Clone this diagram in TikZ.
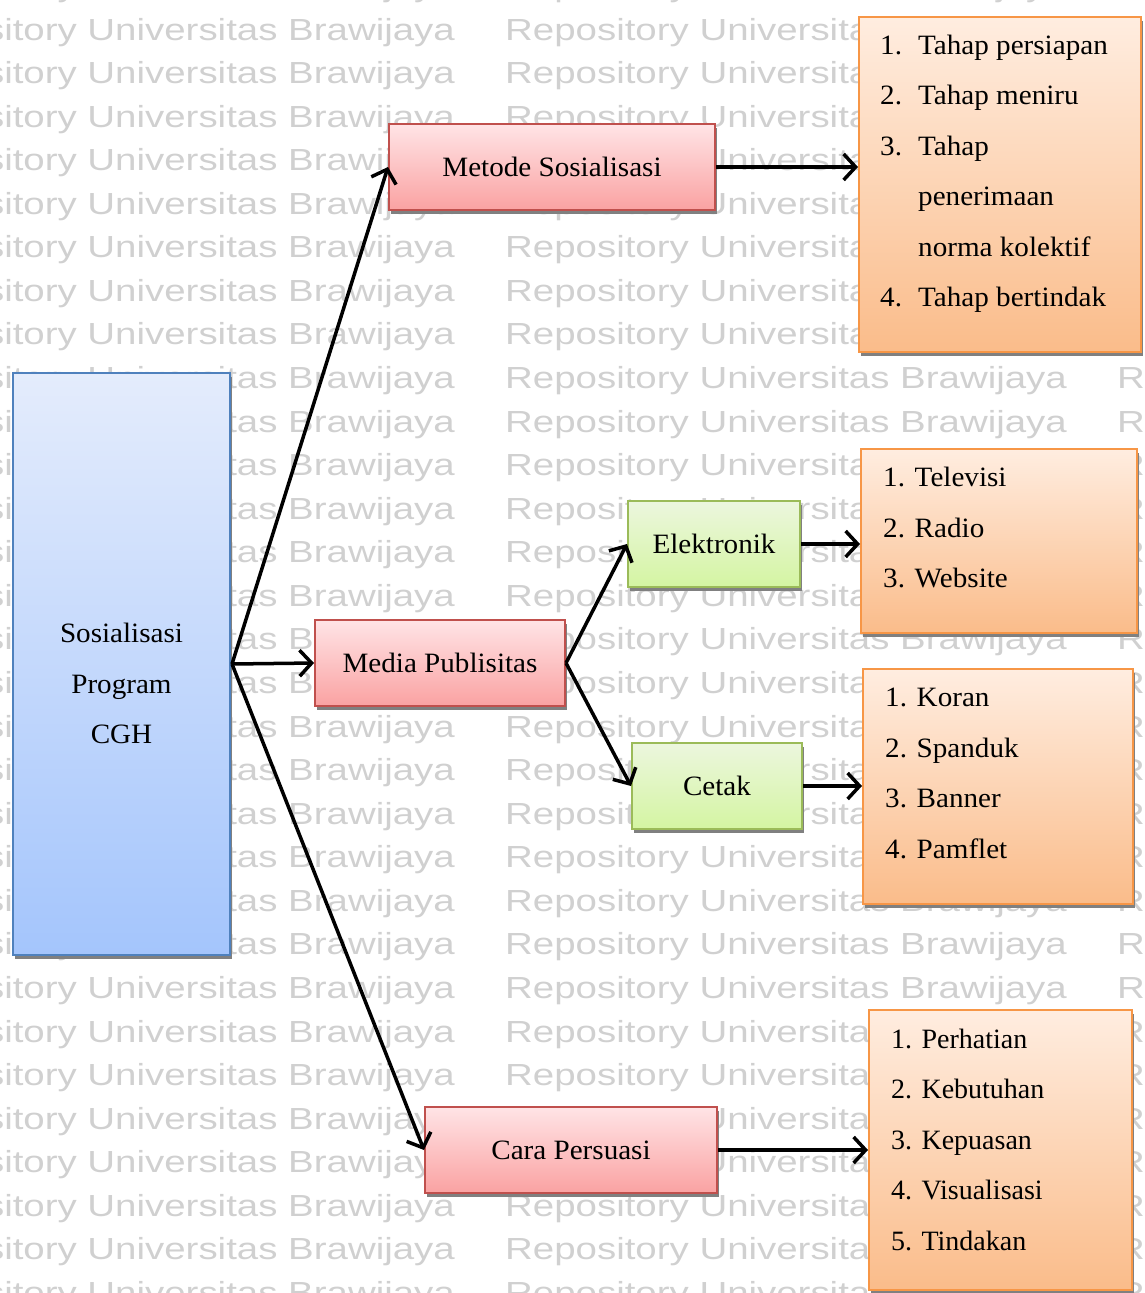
\documentclass[tikz,border=0pt]{standalone}
\usepackage{fontspec}
\setmainfont{Liberation Serif}[FakeStretch=1.04]
\newfontfamily\listfont{Liberation Serif}
\newfontfamily\wmfont{Liberation Sans}[FakeStretch=1.26]
\usetikzlibrary{arrows.meta,shadows}

\definecolor{wmgray}{RGB}{208,208,208}
\definecolor{blueline}{RGB}{79,129,189}
\definecolor{bluetop}{RGB}{228,236,252}
\definecolor{bluebot}{RGB}{164,197,252}
\definecolor{redline}{RGB}{192,80,77}
\definecolor{redtop}{RGB}{255,228,230}
\definecolor{redbot}{RGB}{250,162,162}
\definecolor{greenline}{RGB}{155,187,89}
\definecolor{greentop}{RGB}{236,246,222}
\definecolor{greenbot}{RGB}{212,245,162}
\definecolor{orangeline}{RGB}{247,150,70}
\definecolor{orangetop}{RGB}{255,237,224}
\definecolor{orangebot}{RGB}{250,188,138}

\begin{document}
\begin{tikzpicture}[x=1pt,y=-1pt,
  wm/.style={anchor=base west, inner sep=0pt, text=wmgray,
    font=\wmfont\fontsize{30.5}{36}\selectfont},
  box/.style={draw, line width=2pt, inner sep=0pt,
    font=\fontsize{28}{34}\selectfont,
    drop shadow={shadow xshift=2pt, shadow yshift=-4pt, fill=black!50, opacity=1}},
  bluebox/.style={box, draw=blueline, top color=bluetop, bottom color=bluebot},
  redbox/.style={box, draw=redline, top color=redtop, bottom color=redbot, minimum height=86pt},
  greenbox/.style={box, draw=greenline, top color=greentop, bottom color=greenbot, minimum height=86pt},
  orangebox/.style={box, draw=orangeline, top color=orangetop, bottom color=orangebot},
  item/.style={anchor=base west, inner sep=0pt, font=\fontsize{28}{34}\selectfont},
  plainitem/.style={item, font=\listfont\fontsize{28}{34}\selectfont},
  label/.style={anchor=base, inner sep=0pt, font=\fontsize{28}{34}\selectfont},
  arr/.style={line width=3.5pt, -{Straight Barb[length=12pt,width=26pt]}}
]
\useasboundingbox (0,0) rectangle (1144,1293);

% repeated background lettering
\begin{scope}
  \clip (0,0) rectangle (1144,1293);
  \foreach \k in {-1,...,29}{
    \foreach \x [count=\j] in {-107,505,1117}{
      \node[wm] (wm-\k-\j) at (\x, 40+43.57*\k) {Repository Universitas Brawijaya};
    }
  }
\end{scope}

% main box
\node[bluebox, minimum width=217pt, minimum height=582pt] (cgh) at (121.5,664) {};
\node[label] (cgh1) at (121.5,642.5) {Sosialisasi};
\node[label] (cgh2) at (121.5,693) {Program};
\node[label] (cgh3) at (121.5,743.5) {CGH};

% second level
\node[redbox, minimum width=326pt] (metode) at (552,167) {Metode Sosialisasi};
\node[redbox, minimum width=250pt] (media) at (440,663) {Media Publisitas};
\node[redbox, minimum width=292pt] (cara) at (571,1150) {Cara Persuasi};

% media types
\node[greenbox, minimum width=172pt] (elek) at (714,544) {Elektronik};
\node[greenbox, minimum width=170pt] (cetak) at (717,786) {Cetak};

% lists
\node[orangebox, minimum width=282pt, minimum height=335pt] (o1) at (1000,184.5) {};
\node[item] (o1-1) at (880,54.3) {\makebox[38pt][l]{1.}Tahap persiapan};
\node[item] (o1-2) at (880,104.8) {\makebox[38pt][l]{2.}Tahap meniru};
\node[item] (o1-3) at (880,155.3) {\makebox[38pt][l]{3.}Tahap};
\node[item] (o1-4) at (918,205.8) {penerimaan};
\node[item] (o1-5) at (918,256.3) {norma kolektif};
\node[item] (o1-6) at (880,306.8) {\makebox[38pt][l]{4.}Tahap bertindak};

\node[orangebox, minimum width=276pt, minimum height=184pt] (o2) at (999,541) {};
\foreach \t [count=\i] in {1. Televisi, 2. Radio, 3. Website}
  \node[item] (o2-\i) at (883, 486.7+50.5*\i-50.5) {\t};

\node[orangebox, minimum width=270pt, minimum height=235pt] (o3) at (998,786.5) {};
\foreach \t [count=\i] in {1. Koran, 2. Spanduk, 3. Banner, 4. Pamflet}
  \node[item] (o3-\i) at (885, 706.7+50.5*\i-50.5) {\t};

\node[orangebox, minimum width=263pt, minimum height=280pt] (o4) at (1000.5,1150) {};
\foreach \t [count=\i] in {1. Perhatian, 2. Kebutuhan, 3. Kepuasan, 4. Visualisasi, 5. Tindakan}
  \node[plainitem] (o4-\i) at (891, 1048.3+50.5*\i-50.5) {\t};

% connectors
\coordinate (hub) at ([xshift=1pt]cgh.east);
\draw[arr] (hub) -- (metode.west);
\draw[arr] (hub) -- (media.west);
\draw[arr] (hub) -- (cara.west);
\draw[arr] (media.east) -- (elek.west);
\draw[arr] (media.east) -- (cetak.west);
\draw[arr] (metode.east) -- (metode.east -| o1.west);
\draw[arr] (elek.east) -- (elek.east -| o2.west);
\draw[arr] (cetak.east) -- (cetak.east -| o3.west);
\draw[arr] (cara.east) -- (cara.east -| o4.west);
\end{tikzpicture}
\end{document}
